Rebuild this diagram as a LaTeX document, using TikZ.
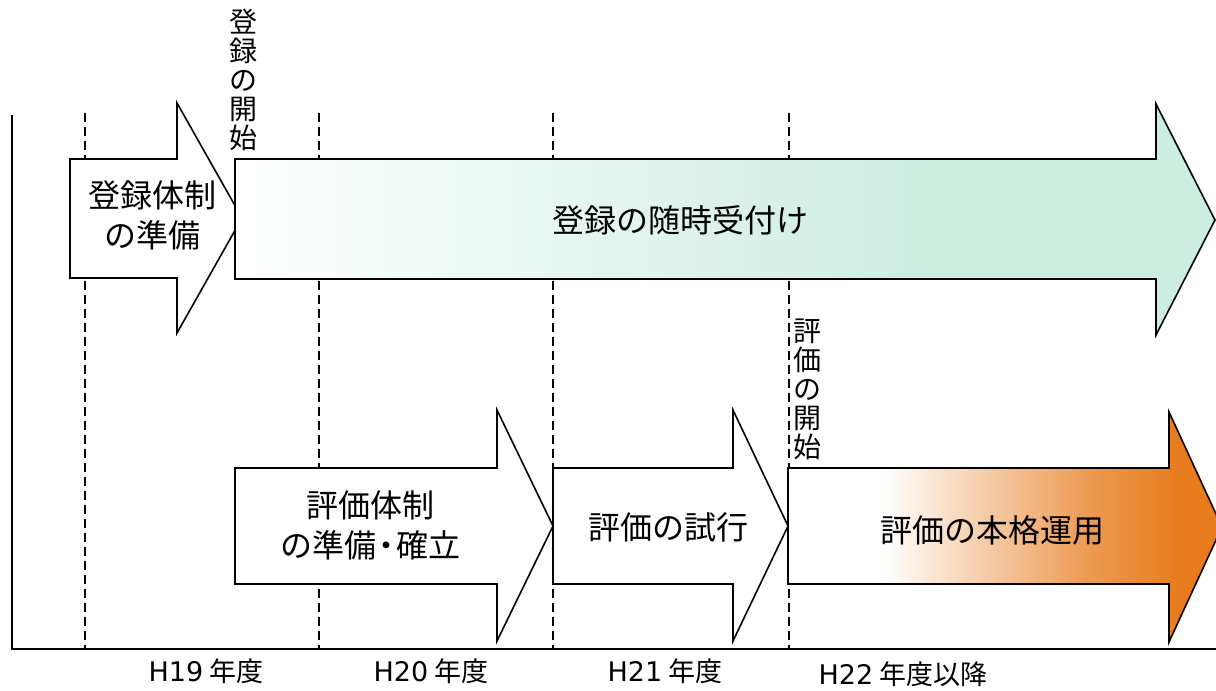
\documentclass[tikz,border=0pt]{standalone}
\usepackage{fontspec}
\setmainfont{Noto Sans CJK JP}
\newfontfamily\yearfont{DejaVu Sans}
\definecolor{mint}{RGB}{205,237,225}
\definecolor{deeporange}{RGB}{231,124,30}
\pgfdeclarehorizontalshading{mintshade}{100bp}{color(0bp)=(white); color(25bp)=(white); color(42bp)=(mint!50); color(60bp)=(mint); color(100bp)=(mint)}
\pgfdeclarehorizontalshading{orangeshade}{100bp}{color(0bp)=(white); color(36bp)=(white); color(48bp)=(deeporange!40); color(60bp)=(deeporange!78); color(70bp)=(deeporange); color(100bp)=(deeporange)}

\begin{document}
\begin{tikzpicture}[x=1pt, y=-1pt, line width=1.6pt,
    stagearrow/.style={draw, fill=white, line join=miter},
    yearline/.style={line width=2pt, dash pattern=on 9pt off 5pt},
    lbl/.style={font=\fontsize{32}{40}\selectfont, align=center, inner sep=0pt},
    yearlbl/.style={font=\fontsize{27}{32}\selectfont, inner sep=0pt},
    vlbl/.style={font=\fontsize{28}{29}\selectfont, align=center, inner sep=0pt}]
  \useasboundingbox (0,0) rectangle (1216,691);
  % axes and year borders
  \draw (12,115) -- (12,649) -- (1216,649);
  \foreach \x in {85,319,553,789}
    \draw[yearline] (\x,113) -- (\x,649);
  % registration
  \draw[stagearrow] (70,159) -- (177,159) -- (177,103) -- (242,218)
    -- (177,333) -- (177,278) -- (70,278) -- cycle;
  \draw[stagearrow, shading=mintshade] (235,159) -- (1156,159) -- (1156,104)
    -- (1215,220) -- (1156,335) -- (1156,279) -- (235,279) -- cycle;
  % evaluation
  \draw[stagearrow] (235,468) -- (497,468) -- (497,410) -- (553,526)
    -- (497,641) -- (497,584) -- (235,584) -- cycle;
  \draw[stagearrow] (553,468) -- (733,468) -- (733,410) -- (788,526)
    -- (733,641) -- (733,584) -- (553,584) -- cycle;
  \draw[stagearrow, shading=orangeshade] (788,468) -- (1169,468) -- (1169,412)
    -- (1222,527) -- (1169,642) -- (1169,584) -- (788,584) -- cycle;
  % labels
  \node[lbl] (regprep) at (152,215) {登録体制\\の準備};
  \node[lbl] (regopen) at (680,220) {登録の随時受付け};
  \node[lbl] (evalprep) at (370,525) {評価体制\\の準備\hspace{-6pt}・\hspace{-6pt}確立};
  \node[lbl] (evaltrial) at (668,527) {評価の試行};
  \node[lbl] (evalfull) at (992,530) {評価の本格運用};
  \node[vlbl, anchor=north] (regstart) at (243,8) {登\\録\\の\\開\\始};
  \node[vlbl, anchor=north] (evalstart) at (807,318) {評\\価\\の\\開\\始};
  \node[yearlbl] (h19) at (206,671) {{\yearfont H19} 年度};
  \node[yearlbl] (h20) at (431,671) {{\yearfont H20} 年度};
  \node[yearlbl] (h21) at (665,671) {{\yearfont H21} 年度};
  \node[yearlbl] (h22) at (903,674) {{\yearfont H22} 年度以降};
\end{tikzpicture}
\end{document}
